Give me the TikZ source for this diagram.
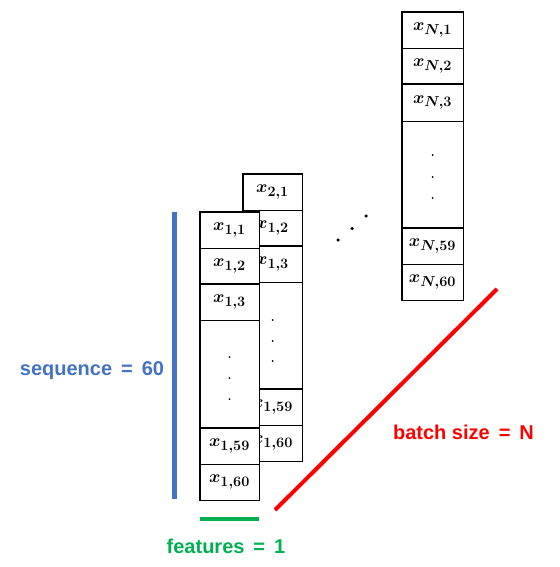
\documentclass[tikz,border=0pt]{standalone}
\usepackage{fontspec}
\newfontfamily\lblfont{Liberation Sans}
\definecolor{seqblue}{HTML}{4472C4}
\definecolor{featgreen}{HTML}{00B050}
\definecolor{batchred}{HTML}{FF0000}
\newcommand{\wsp}{\hspace{0.45em}}
\tikzset{
  cell/.style={draw=black, fill=white, line width=0.9pt, minimum width=59pt, minimum height=36pt, inner sep=0pt,
    font=\fontsize{19}{22}\selectfont\boldmath},
  dotcell/.style={cell, minimum height=107pt},
  vdot/.style={fill=black, circle, inner sep=0pt, minimum size=2pt},
  bigdot/.style={fill=black, circle, inner sep=0pt, minimum size=3.5pt},
  sep/.style={line width=1.6pt},
  lbl/.style={font=\lblfont\bfseries\fontsize{20}{24}\selectfont, inner sep=0pt}
}
\begin{document}
\begin{tikzpicture}[x=1pt,y=-1pt]
\useasboundingbox (0,0) rectangle (559,567);
% column 2 (behind)
\node[cell] (b1) at (272.5,192) {$x_{2,1}$};
\node[cell] (b2) at (272.5,228) {$x_{1,2}$};
\node[cell] (b3) at (272.5,264) {$x_{1,3}$};
\node[dotcell] (b4) at (272.5,335.5) {};
\node[cell] (b5) at (272.5,407) {$x_{1,59}$};
\node[cell] (b6) at (272.5,443) {$x_{1,60}$};
\node[vdot] (bd1) at (272.5,320) {};
\node[vdot] (bd2) at (272.5,341) {};
\node[vdot] (bd3) at (272.5,361) {};
\draw[sep] (b3.north west) -- (b3.north east);
\draw[sep] (b5.north west) -- (b5.north east);
\draw[sep] (b1.north west) rectangle (b6.south east);
% column 1 (front)
\node[cell] (a1) at (229.5,230) {$x_{1,1}$};
\node[cell] (a2) at (229.5,266) {$x_{1,2}$};
\node[cell] (a3) at (229.5,302) {$x_{1,3}$};
\node[dotcell] (a4) at (229.5,374) {};
\node[cell] (a5) at (229.5,446) {$x_{1,59}$};
\node[cell] (a6) at (229.5,482) {$x_{1,60}$};
\node[vdot] (ad1) at (229.5,357) {};
\node[vdot] (ad2) at (229.5,378) {};
\node[vdot] (ad3) at (229.5,399) {};
\draw[sep] (a3.north west) -- (a3.north east);
\draw[sep] (a5.north west) -- (a5.north east);
\draw[sep] (a1.north west) rectangle (a6.south east);
% column N
\node[cell, minimum width=61pt] (n1) at (432.5,30) {$x_{N,1}$};
\node[cell, minimum width=61pt] (n2) at (432.5,66) {$x_{N,2}$};
\node[cell, minimum width=61pt, minimum height=37pt] (n3) at (432.5,102.5) {$x_{N,3}$};
\node[dotcell, minimum width=61pt] (n4) at (432.5,174.5) {};
\node[cell, minimum width=61pt] (n5) at (432.5,246) {$x_{N,59}$};
\node[cell, minimum width=61pt] (n6) at (432.5,282) {$x_{N,60}$};
\node[vdot] (nd1) at (432.5,155) {};
\node[vdot] (nd2) at (432.5,177) {};
\node[vdot] (nd3) at (432.5,198) {};
\draw[sep] (n3.north west) -- (n3.north east);
\draw[sep] (n5.north west) -- (n5.north east);
\draw[sep] (n1.north west) rectangle (n6.south east);
% dots between columns
\node[bigdot] (m1) at (338,240) {};
\node[bigdot] (m2) at (352,228.5) {};
\node[bigdot] (m3) at (366,216) {};
% dimension lines
\coordinate (s1) at (174,212);
\coordinate (s2) at (174,499);
\draw[seqblue, line width=5pt] (s1) -- (s2);
\coordinate (f1) at (200,519);
\coordinate (f2) at (259,519);
\draw[featgreen, line width=4pt] (f1) -- (f2);
\coordinate (r1) at (275,510);
\coordinate (r2) at (497,289);
\draw[batchred, line width=4pt] (r1) -- (r2);
% labels
\node[lbl, text=seqblue] (seq) at (92,371) {sequence\wsp=\wsp60};
\node[lbl, text=featgreen] (feat) at (226,546) {features\wsp=\wsp1};
\node[lbl, text=batchred] (batch) at (463.5,432) {batch size\wsp=\wsp N};
\end{tikzpicture}
\end{document}
